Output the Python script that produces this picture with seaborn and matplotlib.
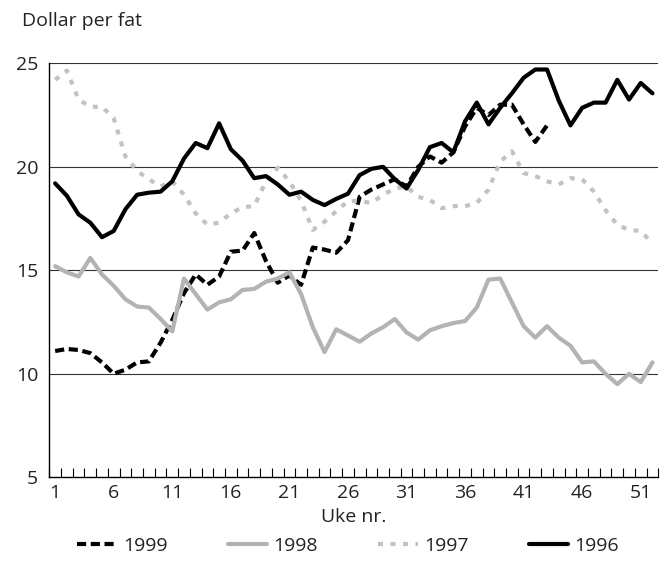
import numpy as np
import pandas as pd
import matplotlib
matplotlib.use("Agg")
import matplotlib.pyplot as plt
import seaborn as sns

weeks = list(range(1, 53))

y1996 = [19.2, 18.6, 17.7, 17.3, 16.6, 16.9, 17.95, 18.65, 18.75, 18.8,
         19.3, 20.4, 21.15, 20.9, 22.1, 20.85, 20.3, 19.45, 19.55, 19.15,
         18.65, 18.8, 18.4, 18.15, 18.45, 18.7, 19.6, 19.9, 20.0, 19.4,
         18.95, 19.85, 20.95, 21.15, 20.7, 22.2, 23.1, 22.05, 22.85, 23.55,
         24.3, 24.7, 24.7, 23.2, 22.0, 22.85, 23.1, 23.1, 24.2, 23.25,
         24.05, 23.55]

y1997 = [24.2, 24.65, 23.25, 22.9, 22.9, 22.35, 20.5, 19.8, 19.4, 19.05,
         19.3, 18.65, 17.75, 17.2, 17.3, 17.75, 18.05, 18.1, 19.3, 19.95,
         19.3, 18.35, 16.95, 17.35, 17.85, 18.35, 18.35, 18.25, 18.65, 18.95,
         19.05, 18.55, 18.4, 18.0, 18.1, 18.1, 18.25, 18.9, 20.25, 20.75,
         19.7, 19.55, 19.3, 19.15, 19.45, 19.4, 18.8, 17.9, 17.2, 16.95,
         16.9, 16.3]

y1998 = [15.2, 14.9, 14.7, 15.6, 14.8, 14.25, 13.6, 13.25, 13.2, 12.65,
         12.05, 14.6, 13.85, 13.1, 13.45, 13.6, 14.05, 14.1, 14.45, 14.6,
         14.9, 13.85, 12.25, 11.05, 12.15, 11.85, 11.55, 11.95, 12.25, 12.65,
         12.0, 11.65, 12.1, 12.3, 12.45, 12.55, 13.2, 14.55, 14.6, 13.45,
         12.3, 11.75, 12.3, 11.75, 11.35, 10.55, 10.6, 10.0, 9.5, 10.0,
         9.6, 10.55]

y1999 = [11.1, 11.2, 11.15, 11.0, 10.55, 10.0, 10.2, 10.55, 10.6, 11.5,
         12.6, 13.9, 14.8, 14.3, 14.7, 15.9, 15.95, 16.8, 15.45, 14.4,
         14.75, 14.3, 16.1, 16.0, 15.85, 16.45, 18.55, 18.9, 19.15, 19.4,
         19.05, 20.0, 20.5, 20.2, 20.7, 21.95, 22.85, 22.5, 23.0, 23.0,
         22.05, 21.2, 22.0]

years = ["1999", "1998", "1997", "1996"]
tick_weeks = [1, 6, 11, 16, 21, 26, 31, 36, 41, 46, 51]
y_ticks = [5, 10, 15, 20, 25]

series = {"1999": y1999, "1998": y1998, "1997": y1997, "1996": y1996}
rows = []
for yr in years:
    for w, v in zip(weeks, series[yr]):
        rows.append({"Uke": w, "Pris": v, "År": yr})
df = pd.DataFrame(rows)

sns.set_style("white")
plt.rcParams["font.family"] = ["Open Sans", "DejaVu Sans"]
plt.rcParams["font.size"] = 14
txt = "#222222"

fig = plt.figure(figsize=(6.66, 5.74), dpi=100)
ax = fig.add_axes([49.3 / 666, 1 - 477.3 / 574, 609 / 666, (477.3 - 63.3) / 574])

# gridlines
for g in [10, 15, 20, 25]:
    ax.axhline(g, color="#333333", lw=0.8, zorder=0)

palette = {"1999": "black", "1998": "#b3b3b3", "1997": "#c2c2c2", "1996": "black"}
dashes = {"1999": (2.2, 1.1), "1998": "", "1997": (1.2, 1.8), "1996": ""}

sns.lineplot(data=df, x="Uke", y="Pris", hue="År", style="År",
             hue_order=years, style_order=years, palette=palette,
             dashes=dashes, linewidth=3.0, ax=ax, legend=True,
             estimator=None, sort=False)

handles, labels = ax.get_legend_handles_labels()
ax.get_legend().remove()
hl = [(h, l) for h, l in zip(handles, labels) if l in years]
fig.legend([h for h, _ in hl], [l for _, l in hl], loc="center",
           bbox_to_anchor=(348 / 666, 1 - 546 / 574), ncol=4, frameon=False,
           handlelength=2.05, handletextpad=0.3, columnspacing=3.1,
           fontsize=14, labelcolor=txt)

ax.set_xlim(0.5, 52.5)
ax.set_ylim(5, 25)
ax.set_xticks(tick_weeks)
ax.set_xticklabels([str(t) for t in tick_weeks])
ax.set_xticks(np.arange(0.5, 53, 1.0), minor=True)
ax.set_yticks(y_ticks)
ax.tick_params(axis="x", which="major", length=0, pad=5, labelcolor=txt, labelsize=14)
ax.tick_params(axis="x", which="minor", length=6.5, width=0.8, direction="in",
               color="black", bottom=True)
ax.tick_params(axis="y", which="major", length=0, pad=8, labelcolor=txt, labelsize=14)

for s in ["top", "right"]:
    ax.spines[s].set_visible(False)
for s in ["left", "bottom"]:
    ax.spines[s].set_color("black")
    ax.spines[s].set_linewidth(1.0)

ax.set_xlabel("Uke nr.", color=txt, fontsize=14, labelpad=4)
ax.set_ylabel("")
ax.grid(False)

fig.text(22 / 666, 1 - 20.7 / 574, "Dollar per fat", ha="left", va="center",
         color=txt, fontsize=14)

fig.savefig("out.png", dpi=100)
